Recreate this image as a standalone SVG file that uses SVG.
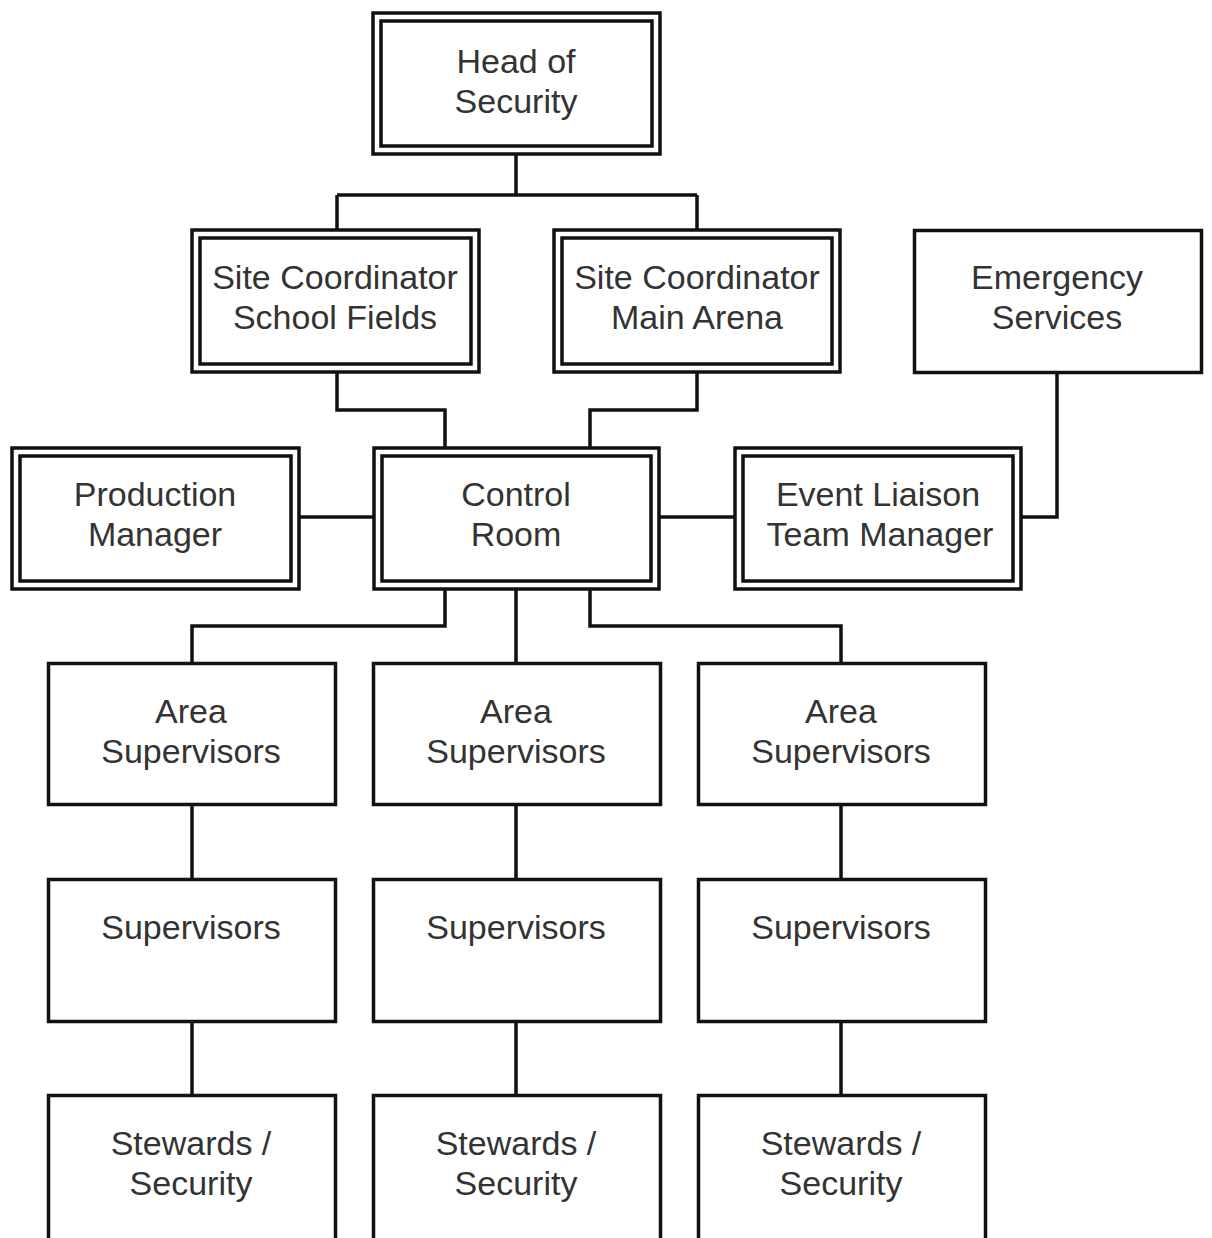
<svg xmlns="http://www.w3.org/2000/svg" width="1212" height="1238" viewBox="0 0 1212 1238">
<style>
.box{fill:#fff;stroke:#111;stroke-width:3.5}
.inner{fill:none;stroke:#111;stroke-width:3.5}
.conn{fill:none;stroke:#111;stroke-width:3.5}
text{font-family:"Liberation Sans",Arial,sans-serif;font-size:34px;fill:#333;text-anchor:middle}
</style>
<rect width="1212" height="1238" fill="#fff"/>
<g id="connectors">
<path class="conn" d="M516 154V195M337 195H697M337 195V230M697 195V230"/>
<path class="conn" d="M337 372V410H445V448"/>
<path class="conn" d="M697 372V410H590V456"/>
<path class="conn" d="M299 517H374M659 517H735"/>
<path class="conn" d="M1057 372V517H1021"/>
<path class="conn" d="M445 589V626H192V664M516 589V664M590 589V626H841V664"/>
<path class="conn" d="M192 805V879M516 805V879M841 805V879"/>
<path class="conn" d="M192 1021V1095M516 1021V1095M841 1021V1095"/>
</g>
<g id="head">
<rect class="box" x="373" y="13" width="287" height="141"/>
<rect class="inner" x="381" y="21" width="271" height="125"/>
<text x="516" y="73">Head of</text><text x="516" y="113">Security</text>
</g>
<g id="school">
<rect class="box" x="192" y="230" width="287" height="142"/>
<rect class="inner" x="200" y="238" width="271" height="126"/>
<text x="335" y="289">Site Coordinator</text><text x="335" y="329">School Fields</text>
</g>
<g id="arena">
<rect class="box" x="554" y="230" width="286" height="142"/>
<rect class="inner" x="562" y="238" width="270" height="126"/>
<text x="697" y="289">Site Coordinator</text><text x="697" y="329">Main Arena</text>
</g>
<g id="emergency">
<rect class="box" x="914.5" y="230.5" width="287" height="142"/>
<text x="1057" y="289">Emergency</text><text x="1057" y="329">Services</text>
</g>
<g id="production">
<rect class="box" x="12" y="448" width="287" height="141"/>
<rect class="inner" x="20" y="456" width="271" height="125"/>
<text x="155" y="506">Production</text><text x="155" y="546">Manager</text>
</g>
<g id="control">
<rect class="box" x="374" y="448" width="285" height="141"/>
<rect class="inner" x="382" y="456" width="269" height="125"/>
<text x="516" y="506">Control</text><text x="516" y="546">Room</text>
</g>
<g id="liaison">
<rect class="box" x="735" y="448" width="286" height="141"/>
<rect class="inner" x="743" y="456" width="270" height="125"/>
<text x="878" y="506">Event Liaison</text><text x="880" y="546">Team Manager</text>
</g>
<g id="area1"><rect class="box" x="48.5" y="663.5" width="287" height="141"/><text x="191" y="723">Area</text><text x="191" y="763">Supervisors</text></g>
<g id="area2"><rect class="box" x="373.5" y="663.5" width="287" height="141"/><text x="516" y="723">Area</text><text x="516" y="763">Supervisors</text></g>
<g id="area3"><rect class="box" x="698.5" y="663.5" width="287" height="141"/><text x="841" y="723">Area</text><text x="841" y="763">Supervisors</text></g>
<g id="sup1"><rect class="box" x="48.5" y="879.5" width="287" height="142"/><text x="191" y="939">Supervisors</text></g>
<g id="sup2"><rect class="box" x="373.5" y="879.5" width="287" height="142"/><text x="516" y="939">Supervisors</text></g>
<g id="sup3"><rect class="box" x="698.5" y="879.5" width="287" height="142"/><text x="841" y="939">Supervisors</text></g>
<g id="stew1"><rect class="box" x="48.5" y="1095.5" width="287" height="170"/><text x="191" y="1155">Stewards /</text><text x="191" y="1195">Security</text></g>
<g id="stew2"><rect class="box" x="373.5" y="1095.5" width="287" height="170"/><text x="516" y="1155">Stewards /</text><text x="516" y="1195">Security</text></g>
<g id="stew3"><rect class="box" x="698.5" y="1095.5" width="287" height="170"/><text x="841" y="1155">Stewards /</text><text x="841" y="1195">Security</text></g>
</svg>
